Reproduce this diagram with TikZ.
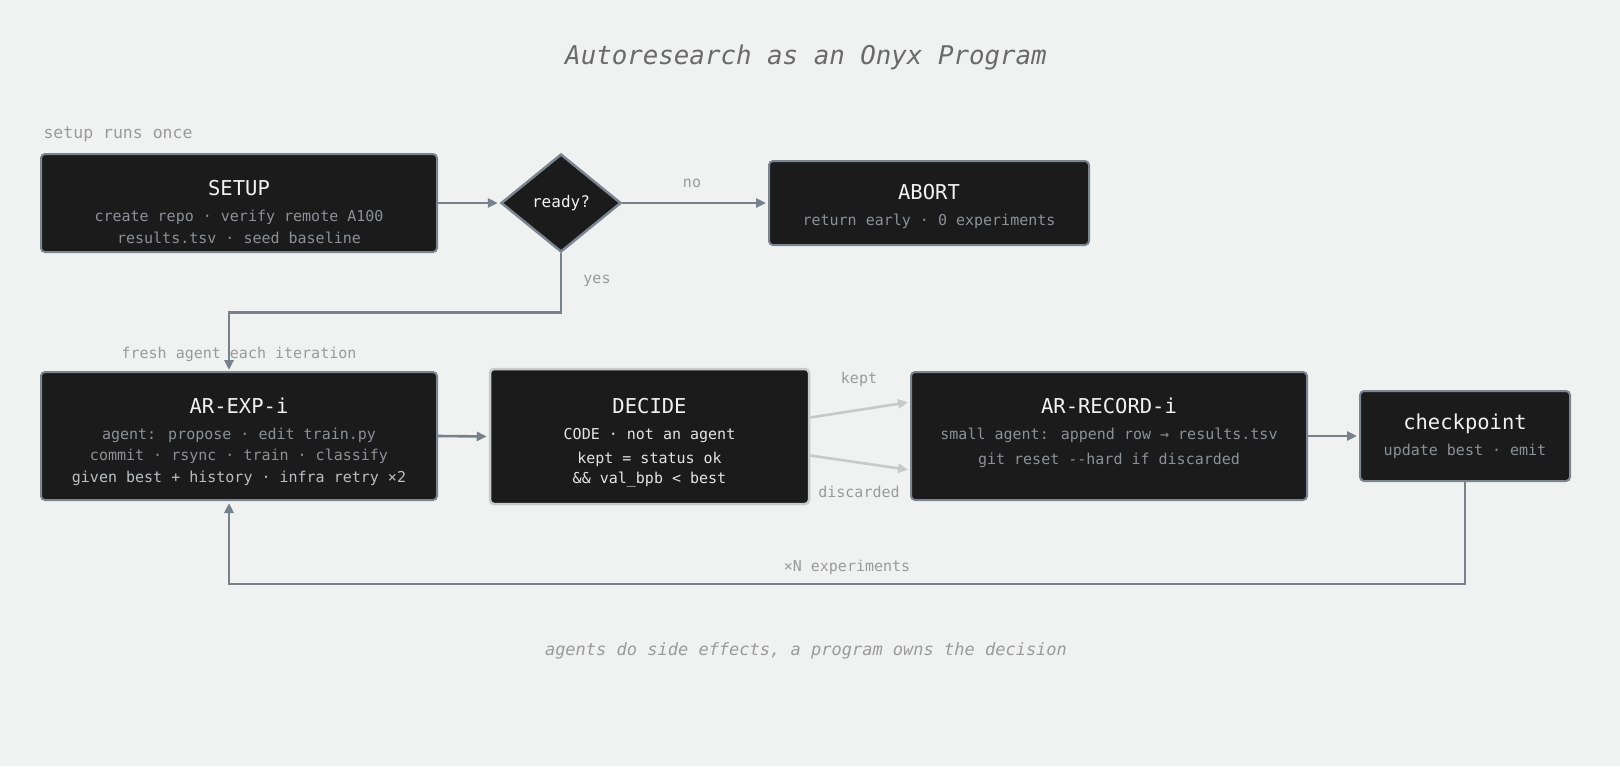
\documentclass[tikz,border=0pt]{standalone}
\usepackage{fontspec}
\setmainfont{DejaVu Sans Mono}
\usetikzlibrary{arrows.meta,positioning,calc,shapes.geometric}
\definecolor{bg}{HTML}{F0F2F1}
\definecolor{boxfill}{HTML}{1B1B1B}
\definecolor{boxline}{HTML}{7B8591}
\definecolor{flowline}{HTML}{76818C}
\definecolor{softline}{HTML}{C8CACA}
\definecolor{hdtext}{HTML}{F2F2F2}
\definecolor{subtext}{HTML}{8C9197}
\definecolor{codetext}{HTML}{E4E4E4}
\definecolor{lbltext}{HTML}{9A9A9A}
\definecolor{titletext}{HTML}{6A6A6A}

\begin{document}
\begin{tikzpicture}[
      x=1pt, y=-1pt,
      box/.style={draw=boxline, fill=boxfill, line width=2pt, rounded corners=4pt, inner sep=0pt},
      hd/.style={text=hdtext, font=\fontsize{20.5}{24}\selectfont},
      sub/.style={text=subtext, font=\fontsize{15}{18}\selectfont},
      code/.style={text=codetext, font=\fontsize{15}{18}\selectfont},
      lbl/.style={text=lbltext, font=\fontsize{15}{18}\selectfont},
      flow/.style={draw=flowline, line width=2.6pt, -{Triangle[length=10pt,width=9pt]}, shorten >=2pt},
      soft/.style={draw=softline, line width=2.6pt, -{Triangle[length=10pt,width=9pt]}, shorten >=2pt}
    ]
    \fill[bg] (0,0) rectangle (1620,766);
    \useasboundingbox (0,0) rectangle (1620,766);

    % title
    \node[text=titletext, font=\fontsize{25.8}{30}\selectfont\itshape] (title) at (806,57) {Autoresearch as an Onyx Program};

    % setup row
    \node[lbl, anchor=west, font=\fontsize{16.5}{19}\selectfont] (setuplbl) at (40,134) {setup runs once};
    \node[box, minimum width=396pt, minimum height=98pt] (setup) at (239,203) {};
    \node[hd] (setuphd) at (239,188) {SETUP};
    \node[sub] (setupa) at (239,217) {create repo · verify remote A100};
    \node[sub] (setupb) at (239,238) {results.tsv · seed baseline};

    \node[diamond, draw=boxline, fill=boxfill, line width=2.5pt, minimum width=120pt, minimum height=98pt, inner sep=0pt,
          text=hdtext, font=\fontsize{16}{19}\selectfont] (ready) at (561,203) {ready?};

    \node[box, minimum width=320pt, minimum height=84pt] (abort) at (929,203) {};
    \node[hd] (aborthd) at (929,192) {ABORT};
    \node[sub] (aborta) at (929,221) {return early · 0 experiments};

    \draw[flow] (setup.east) -- (ready.west);
    \draw[flow] (ready.east) -- (abort.west);
    \node[lbl] (nolbl) at (692,183) {no};
    \node[lbl] (yeslbl) at (597,281) {yes};

    % loop row
    \node[lbl] (freshlbl) at (239,354) {fresh agent each iteration};
    \draw[flow] (ready.south) -- ++(0,59) -| ([xshift=-10pt]setup.center |- 0,372);

    \node[box, minimum width=396pt, minimum height=128pt] (exp) at (239,436) {};
    \node[hd] (exphd) at (239,406) {AR-EXP-i};
    \node[sub] (expa) at (239,435) {agent: propose · edit train.py};
    \node[sub] (expb) at (239,456) {commit · rsync · train · classify};
    \node[code, text=codetext!55!subtext] (expc) at (239,478) {given best + history · infra retry ×2};

    \node[box, draw=softline, line width=2.5pt, minimum width=319pt, minimum height=135pt] (decide) at (649.5,436.5) {};
    \node[hd] (decidehd) at (649.5,406) {DECIDE};
    \node[code] (decidea) at (649.5,436) {CODE · not an agent};
    \node[code] (decideb) at (649.5,459) {kept = status ok};
    \node[code] (decidec) at (649.5,480) {\&\& val\_bpb < best};

    \node[box, minimum width=396pt, minimum height=128pt] (record) at (1109,436) {};
    \node[hd] (recordhd) at (1109,406) {AR-RECORD-i};
    \node[sub] (recorda) at (1109,435) {small agent: append row → results.tsv};
    \node[sub] (recordb) at (1109,460) {git reset -{}-hard if discarded};

    \node[box, minimum width=210pt, minimum height=90pt] (ckpt) at (1465,436) {};
    \node[hd] (ckpthd) at (1465,424) {checkpoint};
    \node[sub] (ckpta) at (1465,451) {update best · emit};

    \draw[flow] (exp.east) -- (decide.west);
    \draw[soft] ([yshift=19pt]decide.east) -- ([yshift=34pt]record.west);
    \draw[soft] ([yshift=-19pt]decide.east) -- ([yshift=-34pt]record.west);
    \node[lbl] (keptlbl) at (859,379) {kept};
    \node[lbl] (disclbl) at (859,492) {discarded};
    \draw[flow] (record.east) -- (ckpt.west);

    % back edge
    \draw[flow] (ckpt.south) -- ++(0,102) -| ([xshift=-10pt]exp.south);
    \node[lbl] (nlbl) at (847,567) {×N experiments};

    % footer
    \node[text=lbltext, font=\fontsize{17}{20}\selectfont\itshape] (footer) at (806,651) {agents do side effects, a program owns the decision};
  \end{tikzpicture}
\end{document}
